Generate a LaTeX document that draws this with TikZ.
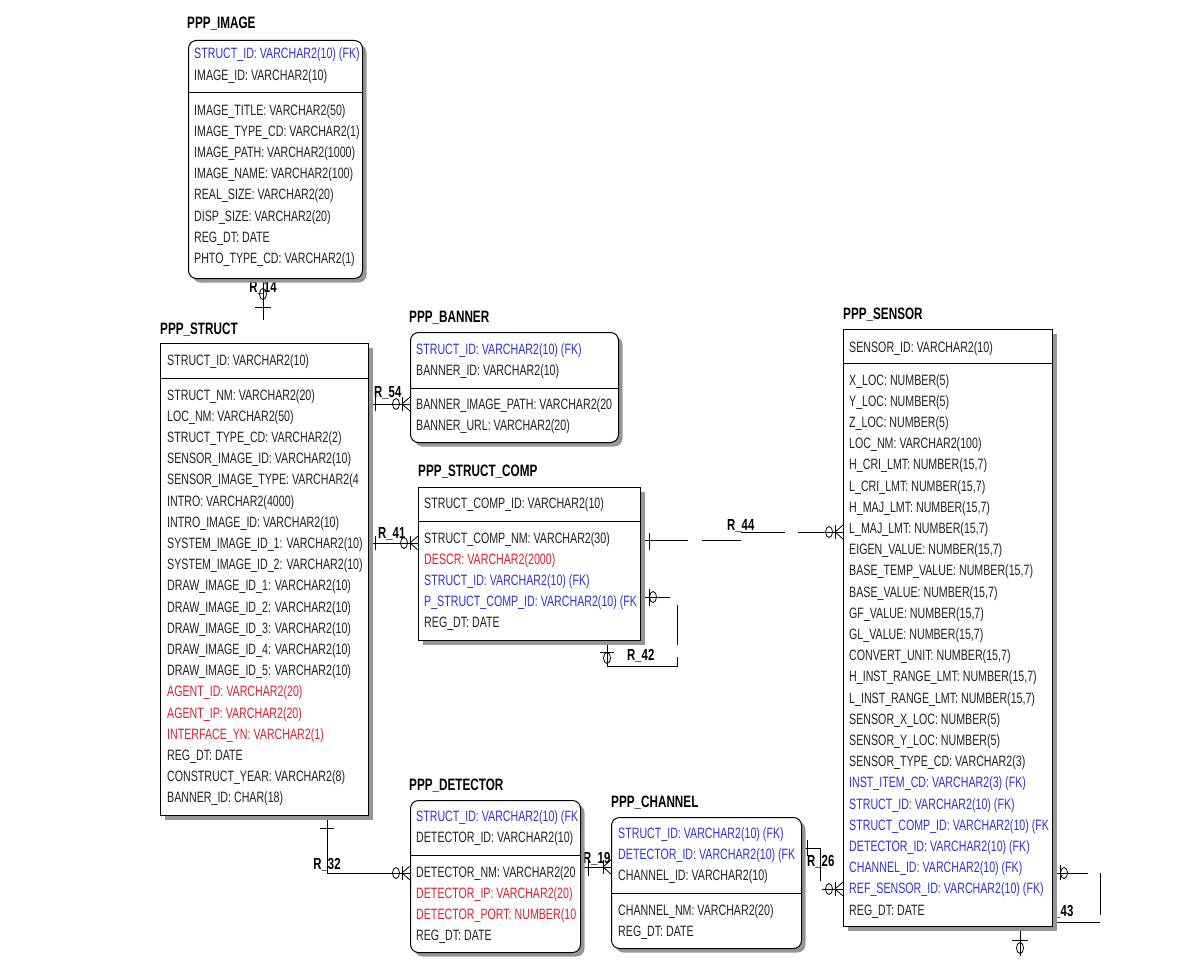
\documentclass[tikz,border=0pt]{standalone}
\usepackage{fontspec}
\setmainfont{Liberation Sans}[FakeStretch=0.71]
\usetikzlibrary{shadows}
\definecolor{fkblue}{RGB}{50,50,210}
\definecolor{nkred}{RGB}{225,30,50}
\definecolor{ink}{RGB}{35,35,35}
\definecolor{shade}{RGB}{150,150,150}
\tikzset{
 ent/.style={draw=black, line width=1pt, fill=white, anchor=north west, inner sep=0pt,
   drop shadow={shadow xshift=4pt, shadow yshift=-4pt, fill=shade, opacity=1}},
 dep/.style={ent, rounded corners=8pt},
 row/.style={anchor=west, inner sep=0pt, text height=11pt, text depth=1pt,
   font=\fontsize{15}{17}\selectfont, text=ink},
 fk/.style={text=fkblue}, rd/.style={text=nkred}, nk/.style={},
 ttl/.style={anchor=west, inner sep=0pt, font=\fontsize{16.5}{18}\selectfont\bfseries, text=black},
 rel/.style={anchor=west, inner sep=0pt, font=\fontsize{16}{18}\selectfont\bfseries, text=black},
 ln/.style={line width=0.8pt, draw=black},
}
\newcommand\rowlist[4]{%
 \foreach \tx/\cl [count=\i] in {#4} \node[row,\cl] (#1\i) at (#2,{#3+21.2*(\i-1)}) {\tx};}
% crow's foot with bar, entity on the right at x=#1
\newcommand\crowK[2]{%
 \draw[ln] (#1-8,#2-7) -- (#1-8,#2+7);
 \draw[ln] (#1-8,#2) -- (#1,#2-7);
 \draw[ln] (#1-8,#2) -- (#1,#2+7);}
\newcommand\crowO[2]{%
 \crowK{#1}{#2}
 \draw[ln] (#1-14,#2) ellipse [x radius=3.5pt, y radius=5.5pt];}
\newcommand\ring[2]{\draw[ln] (#1,#2) ellipse [x radius=3.5pt, y radius=5.5pt];}
\begin{document}
\begin{tikzpicture}[x=1pt,y=-1pt]
\useasboundingbox (0,0) rectangle (1190,974);

% ---------------- connectors ----------------
% R_14
\coordinate (r14a) at (263,278); \coordinate (r14b) at (263,320);
\draw[ln] (r14a) -- (r14b);
\draw[ln] (255,307) -- (271,307);
\ring{263}{294}
\node[rel,anchor=center] (lr14) at (263,288) {R\_14};
% R_54
\coordinate (r54a) at (368,404); \coordinate (r54b) at (410,404);
\draw[ln] (r54a) -- (r54b);
\draw[ln] (375,397) -- (375,411);
\crowO{410}{404}
\node[rel] (lr54) at (374,393) {R\_54};
% R_41
\coordinate (r41a) at (368,543); \coordinate (r41b) at (418,543);
\draw[ln] (r41a) -- (r41b);
\draw[ln] (375,536) -- (375,550);
\crowO{418}{543}
\node[rel] (lr41) at (378,534) {R\_41};
% R_44
\coordinate (r44a) at (640,540); \coordinate (r44b) at (843,532);
\draw[ln] (r44a) -- (688,540);
\draw[ln] (702,540) -- (741,540);
\draw[ln] (741,532) -- (785,532);
\draw[ln] (798,532) -- (r44b);
\draw[ln] (649,533) -- (649,550);
\crowO{843}{532}
\node[rel] (lr44) at (727,526) {R\_44};
% R_42
\coordinate (r42a) at (640,597); \coordinate (r42b) at (607,640);
\draw[ln] (r42a) -- (670,597);
\draw[ln] (649,589) -- (649,606);
\ring{653}{597}
\draw[ln] (677,605) -- (677,645);
\draw[ln] (677,657) -- (677,666) -- (607,666) -- (r42b);
\draw[ln] (600,652) -- (614,652);
\ring{607}{658}
\node[rel] (lr42) at (627,656) {R\_42};
% R_32
\coordinate (r32a) at (327,815); \coordinate (r32b) at (410,873);
\draw[ln] (r32a) -- (327,873) -- (r32b);
\draw[ln] (320,828) -- (334,828);
\crowO{410}{873}
\node[rel,anchor=center] (lr32) at (327,865) {R\_32};
% R_19
\coordinate (r19a) at (580,867); \coordinate (r19b) at (611,867);
\draw[ln] (r19a) -- (r19b);
\draw[ln] (588,860) -- (588,876);
\crowK{611}{867}
\node[rel] (lr19) at (583,859) {R\_19};
% R_26
\coordinate (r26a) at (801,848); \coordinate (r26b) at (843,889);
\draw[ln] (r26a) -- (820,848) -- (820,881);
\draw[ln] (822,889) -- (r26b);
\draw[ln] (807,840) -- (807,856);
\crowO{843}{889}
\node[rel] (lr26) at (807,862) {R\_26};
% R_43
\coordinate (r43a) at (1052,873); \coordinate (r43b) at (1020,927);
\draw[ln] (r43a) -- (1088,873);
\draw[ln] (1060,865) -- (1060,880);
\ring{1064}{873}
\draw[ln] (1100,873) -- (1100,915);
\draw[ln] (1100,922) -- (1055,922);
\draw[ln] (r43b) -- (1020,956);
\draw[ln] (1012,940) -- (1028,940);
\ring{1020}{948}
\node[rel] (lr43) at (1046,912) {R\_43};

% ---------------- PPP_IMAGE ----------------
\node[ttl] (timg) at (187,24) {PPP\_IMAGE};
\node[dep, minimum width=174pt, minimum height=238pt] (img) at (188,40) {};
\draw[line width=1pt] (188,92) -- (362,92);
\begin{scope}
\clip (189,41) rectangle (360,277);
\rowlist{imgk}{194}{54}{{STRUCT\_ID: VARCHAR2(10) (FK)}/fk, {IMAGE\_ID: VARCHAR2(10)}/nk}
\rowlist{imgn}{194}{110}{{IMAGE\_TITLE: VARCHAR2(50)}/nk, {IMAGE\_TYPE\_CD: VARCHAR2(1)}/nk,
 {IMAGE\_PATH: VARCHAR2(1000)}/nk, {IMAGE\_NAME: VARCHAR2(100)}/nk, {REAL\_SIZE: VARCHAR2(20)}/nk,
 {DISP\_SIZE: VARCHAR2(20)}/nk, {REG\_DT: DATE}/nk, {PHTO\_TYPE\_CD: VARCHAR2(1)}/nk}
\end{scope}

% ---------------- PPP_STRUCT ----------------
\node[ttl] (tstr) at (160,330) {PPP\_STRUCT};
\node[ent, minimum width=208pt, minimum height=472pt] (str) at (160,343) {};
\draw[line width=1pt] (160,378) -- (368,378);
\begin{scope}
\clip (161,344) rectangle (366,814);
\rowlist{strk}{167}{360}{{STRUCT\_ID: VARCHAR2(10)}/nk}
\rowlist{strn}{167}{395}{{STRUCT\_NM: VARCHAR2(20)}/nk, {LOC\_NM: VARCHAR2(50)}/nk,
 {STRUCT\_TYPE\_CD: VARCHAR2(2)}/nk, {SENSOR\_IMAGE\_ID: VARCHAR2(10)}/nk,
 {SENSOR\_IMAGE\_TYPE: VARCHAR2(4}/nk, {INTRO: VARCHAR2(4000)}/nk, {INTRO\_IMAGE\_ID: VARCHAR2(10)}/nk,
 {SYSTEM\_IMAGE\_ID\_1: VARCHAR2(10)}/nk, {SYSTEM\_IMAGE\_ID\_2: VARCHAR2(10)}/nk,
 {DRAW\_IMAGE\_ID\_1: VARCHAR2(10)}/nk, {DRAW\_IMAGE\_ID\_2: VARCHAR2(10)}/nk,
 {DRAW\_IMAGE\_ID\_3: VARCHAR2(10)}/nk, {DRAW\_IMAGE\_ID\_4: VARCHAR2(10)}/nk,
 {DRAW\_IMAGE\_ID\_5: VARCHAR2(10)}/nk, {AGENT\_ID: VARCHAR2(20)}/rd, {AGENT\_IP: VARCHAR2(20)}/rd,
 {INTERFACE\_YN: VARCHAR2(1)}/rd, {REG\_DT: DATE}/nk, {CONSTRUCT\_YEAR: VARCHAR2(8)}/nk,
 {BANNER\_ID: CHAR(18)}/nk}
\end{scope}

% ---------------- PPP_BANNER ----------------
\node[ttl] (tban) at (409,318) {PPP\_BANNER};
\node[dep, minimum width=208pt, minimum height=110pt] (ban) at (410,332) {};
\draw[line width=1pt] (410,388) -- (618,388);
\begin{scope}
\clip (411,333) rectangle (616,441);
\rowlist{bank}{416}{349}{{STRUCT\_ID: VARCHAR2(10) (FK)}/fk, {BANNER\_ID: VARCHAR2(10)}/nk}
\rowlist{bann}{416}{404}{{BANNER\_IMAGE\_PATH: VARCHAR2(20}/nk, {BANNER\_URL: VARCHAR2(20)}/nk}
\end{scope}

% ---------------- PPP_STRUCT_COMP ----------------
\node[ttl] (tcmp) at (418,472) {PPP\_STRUCT\_COMP};
\node[ent, minimum width=222pt, minimum height=153pt] (cmp) at (418,487) {};
\draw[line width=1pt] (418,521) -- (640,521);
\begin{scope}
\clip (419,488) rectangle (638,639);
\rowlist{cmpk}{424}{503}{{STRUCT\_COMP\_ID: VARCHAR2(10)}/nk}
\rowlist{cmpn}{424}{538}{{STRUCT\_COMP\_NM: VARCHAR2(30)}/nk, {DESCR: VARCHAR2(2000)}/rd,
 {STRUCT\_ID: VARCHAR2(10) (FK)}/fk, {P\_STRUCT\_COMP\_ID: VARCHAR2(10) (FK}/fk, {REG\_DT: DATE}/nk}
\end{scope}

% ---------------- PPP_SENSOR ----------------
\node[ttl] (tsen) at (843,315) {PPP\_SENSOR};
\node[ent, minimum width=209pt, minimum height=597pt] (sen) at (843,329) {};
\draw[line width=1pt] (843,363) -- (1052,363);
\begin{scope}
\clip (844,330) rectangle (1050,925);
\rowlist{senk}{849}{347}{{SENSOR\_ID: VARCHAR2(10)}/nk}
\rowlist{senn}{849}{380}{{X\_LOC: NUMBER(5)}/nk, {Y\_LOC: NUMBER(5)}/nk, {Z\_LOC: NUMBER(5)}/nk,
 {LOC\_NM: VARCHAR2(100)}/nk, {H\_CRI\_LMT: NUMBER(15,7)}/nk, {L\_CRI\_LMT: NUMBER(15,7)}/nk,
 {H\_MAJ\_LMT: NUMBER(15,7)}/nk, {L\_MAJ\_LMT: NUMBER(15,7)}/nk, {EIGEN\_VALUE: NUMBER(15,7)}/nk,
 {BASE\_TEMP\_VALUE: NUMBER(15,7)}/nk, {BASE\_VALUE: NUMBER(15,7)}/nk, {GF\_VALUE: NUMBER(15,7)}/nk,
 {GL\_VALUE: NUMBER(15,7)}/nk, {CONVERT\_UNIT: NUMBER(15,7)}/nk, {H\_INST\_RANGE\_LMT: NUMBER(15,7)}/nk,
 {L\_INST\_RANGE\_LMT: NUMBER(15,7)}/nk, {SENSOR\_X\_LOC: NUMBER(5)}/nk, {SENSOR\_Y\_LOC: NUMBER(5)}/nk,
 {SENSOR\_TYPE\_CD: VARCHAR2(3)}/nk, {INST\_ITEM\_CD: VARCHAR2(3) (FK)}/fk,
 {STRUCT\_ID: VARCHAR2(10) (FK)}/fk, {STRUCT\_COMP\_ID: VARCHAR2(10) (FK}/fk,
 {DETECTOR\_ID: VARCHAR2(10) (FK)}/fk, {CHANNEL\_ID: VARCHAR2(10) (FK)}/fk,
 {REF\_SENSOR\_ID: VARCHAR2(10) (FK)}/fk, {REG\_DT: DATE}/nk}
\end{scope}

% ---------------- PPP_DETECTOR ----------------
\node[ttl] (tdet) at (409,786) {PPP\_DETECTOR};
\node[dep, minimum width=170pt, minimum height=152pt] (det) at (410,800) {};
\draw[line width=1pt] (410,855) -- (580,855);
\begin{scope}
\clip (411,801) rectangle (578,951);
\rowlist{detk}{416}{816}{{STRUCT\_ID: VARCHAR2(10) (FK}/fk, {DETECTOR\_ID: VARCHAR2(10)}/nk}
\rowlist{detn}{416}{872}{{DETECTOR\_NM: VARCHAR2(20}/nk, {DETECTOR\_IP: VARCHAR2(20)}/rd,
 {DETECTOR\_PORT: NUMBER(10}/rd, {REG\_DT: DATE}/nk}
\end{scope}

% ---------------- PPP_CHANNEL ----------------
\node[ttl] (tchn) at (611,803) {PPP\_CHANNEL};
\node[dep, minimum width=190pt, minimum height=131pt] (chn) at (611,817) {};
\draw[line width=1pt] (611,893) -- (801,893);
\begin{scope}
\clip (612,818) rectangle (799,947);
\rowlist{chnk}{618}{833}{{STRUCT\_ID: VARCHAR2(10) (FK)}/fk, {DETECTOR\_ID: VARCHAR2(10) (FK}/fk,
 {CHANNEL\_ID: VARCHAR2(10)}/nk}
\rowlist{chnn}{618}{910}{{CHANNEL\_NM: VARCHAR2(20)}/nk, {REG\_DT: DATE}/nk}
\end{scope}
\end{tikzpicture}
\end{document}
